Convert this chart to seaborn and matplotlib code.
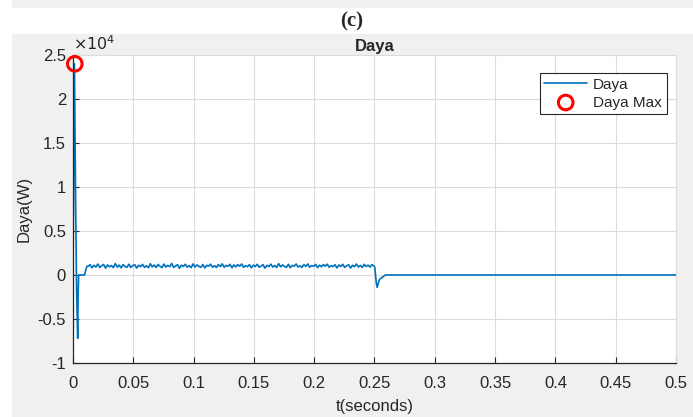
import numpy as np
import pandas as pd
import matplotlib
matplotlib.use("Agg")
import matplotlib.pyplot as plt
import seaborn as sns
from matplotlib.ticker import FuncFormatter, FixedLocator

# start-up transient (t in s, power in W)
t_head = [0.0, 0.0012, 0.0022, 0.003, 0.0039, 0.0043, 0.0047, 0.0095, 0.0115]
p_head = [0, 24000, 8000, -2000, -7200, -2000, 0, 0, 1000]

p_mid = [980, 1180, 820, 1100, 900, 1250, 860, 1050, 1200, 780, 1150, 930, 1080, 840,
         1300, 900, 1120, 810, 1190, 960, 880, 1230, 850, 1060, 1170, 790, 1110, 940,
         1210, 870, 1040, 830, 1280, 920, 1130, 860, 1200, 990, 840, 1240, 900, 1090,
         950, 1320, 850, 1020, 1180, 760, 1120, 970, 1220, 890, 1070, 830, 1260, 910,
         1150, 980, 870, 1200, 800, 1100, 1010, 1230, 890, 1050, 850, 1180, 950, 1270,
         880, 1090, 990, 1210, 820, 1140, 920, 1190, 1000, 1250, 870, 1060, 940, 1180,
         810, 1130, 960, 1220, 880, 1030, 1170, 780, 1100, 950, 1240, 900, 1080, 850,
         1290, 930, 1140, 990, 860, 1210, 830, 1090, 1010, 1250, 900, 1040, 860, 1190,
         970, 1260, 890, 1070, 990, 1200, 840, 1120, 930, 1180, 1000, 1230, 880, 1060,
         950, 1170, 800, 1140, 970, 1210, 870, 1050, 1160, 790, 1110, 940, 1250, 910,
         1090, 860, 1220, 960, 1130, 900, 1180, 1020]
t_mid_start, t_mid_end = 0.0125, 0.2495

# switch-off transient
t_tail = [0.2502, 0.2508, 0.2515, 0.2522, 0.2532, 0.2542, 0.2555, 0.257, 0.259, 0.5]
p_tail = [900, 100, -900, -1400, -900, -500, -350, -200, 0, 0]

t_max, p_max = 0.0015, 24000

x_ticks = [0, 0.05, 0.1, 0.15, 0.2, 0.25, 0.3, 0.35, 0.4, 0.45, 0.5]
y_ticks = [-1, -0.5, 0, 0.5, 1, 1.5, 2, 2.5]

t_mid = list(np.linspace(t_mid_start, t_mid_end, len(p_mid)))
df = pd.DataFrame({"t": t_head + t_mid + t_tail, "p": p_head + p_mid + p_tail})

sns.set_style("white")
plt.rcParams["font.family"] = ["Liberation Sans", "DejaVu Sans"]
plt.rcParams["axes.unicode_minus"] = False

fig = plt.figure(figsize=(6.93, 4.17), dpi=100)
W, H = 693, 417
# grey figure panels (MATLAB style), kept behind the axes
fig.patches.append(plt.Rectangle((12 / W, 1 - 7 / H), 1, 7 / H, transform=fig.transFigure,
                                 color="#f0f0f0", zorder=-10))
fig.patches.append(plt.Rectangle((12 / W, 0), 1, 1 - 34 / H, transform=fig.transFigure,
                                 color="#f0f0f0", zorder=-10))
fig.text(352 / W, 1 - 21 / H, "(c)", ha="center", va="center", fontsize=15,
         fontweight="bold", family="Liberation Serif")

ax = fig.add_axes([73 / W, 1 - 363 / H, (676 - 73) / W, (363 - 55) / H])
ax.set_facecolor("white")

sns.lineplot(data=df, x="t", y="p", ax=ax, color="#0072BD", linewidth=1.2,
             estimator=None, sort=False, label="Daya")
sns.scatterplot(x=[t_max], y=[p_max], ax=ax, marker="o", s=110, facecolor="none",
                edgecolor="red", linewidth=2.2, label="Daya Max", zorder=5, clip_on=False)

ax.set_xlim(0, 0.5)
ax.set_ylim(-10000, 25000)
ax.xaxis.set_major_locator(FixedLocator(x_ticks))
ax.yaxis.set_major_locator(FixedLocator([v * 1e4 for v in y_ticks]))
ax.xaxis.set_major_formatter(FuncFormatter(lambda v, pos: "%g" % round(v, 3)))
ax.yaxis.set_major_formatter(FuncFormatter(lambda v, pos: "%g" % round(v / 1e4, 3)))
ax.grid(True, color="#dcdcdc", linewidth=0.8)
ax.tick_params(direction="in", length=4, labelsize=12, colors="#262626",
               top=False, right=False, bottom=True, left=True, pad=5)
ax.tick_params(axis="x", pad=9)
for s in ["top", "right"]:
    ax.spines[s].set_color("#dcdcdc")
    ax.spines[s].set_linewidth(0.8)
for s in ["left", "bottom"]:
    ax.spines[s].set_color("#262626")
    ax.spines[s].set_linewidth(0.9)

ax.text(0, 1.005, r"$\times10^{4}$", transform=ax.transAxes, ha="left", va="bottom",
        fontsize=11.5, color="#262626", family="DejaVu Sans")
ax.set_title("Daya", fontsize=12, fontweight="bold", pad=3)
ax.set_xlabel("t(seconds)", fontsize=12, color="#262626", labelpad=6)
ax.set_ylabel("Daya(W)", fontsize=12, color="#262626", labelpad=4)

leg = ax.legend(loc="upper right", bbox_to_anchor=(0.997, 0.966), fontsize=11,
                frameon=True, fancybox=False, framealpha=1, edgecolor="#262626",
                handlelength=2.8, borderpad=0.3, labelspacing=0.25, handletextpad=0.4)
leg.get_frame().set_linewidth(0.8)

fig.savefig("out.png", dpi=100)
